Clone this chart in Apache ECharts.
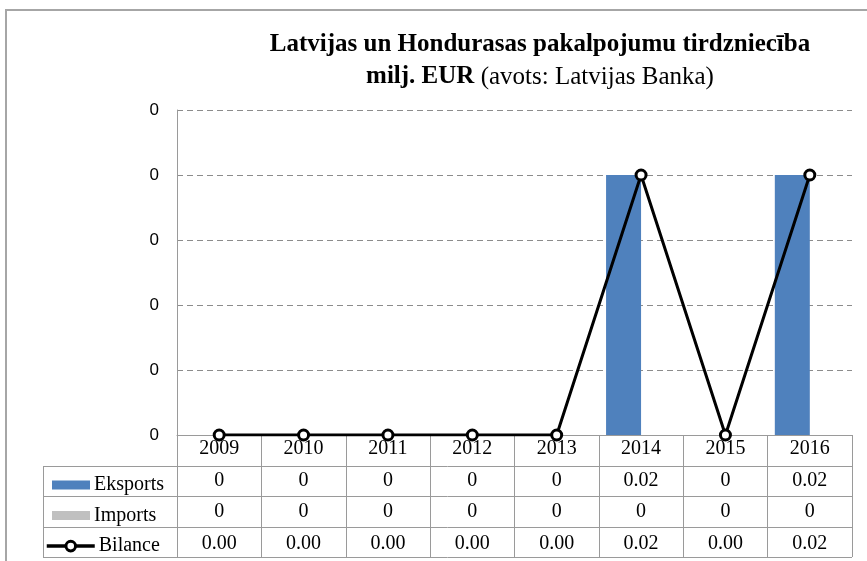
<!DOCTYPE html>
<html><head><meta charset="utf-8">
<script src="https://cdn.jsdelivr.net/npm/echarts@6/dist/echarts.min.js"></script>
<style>html,body{margin:0;padding:0;background:#fff}#c{width:867px;height:561px}</style>
</head><body><div id="c"></div>
<script>
const years = ['2009','2010','2011','2012','2013','2014','2015','2016'];
const eksports = [0,0,0,0,0,0.02,0,0.02];
const imports = [0,0,0,0,0,0,0,0];
const bilance = [0,0,0,0,0,0.02,0,0.02];
const yMin = 0, yMax = 0.025, yStep = 0.005;

const SERIF = '"Liberation Serif","Times New Roman",serif';
const G = {left:177, right:15, top:110, bottom:126};
const W = 867, H = 561;
const rowH = 30.6;
const tblTop = H - G.bottom;
const tblLeft = 43, tblRight = W - G.right;
const gray = '#9a9a9a';

function fmtGen(v){ return v === 0 ? '0' : String(+v.toFixed(2)); }
const chart = echarts.init(document.getElementById('c'), null, {renderer:'canvas'});

const lines = [];
for (let i = 1; i <= 4; i++) {
  const y = Math.round(tblTop + rowH * i) + 0.5;
  lines.push({type:'line', shape:{x1:tblLeft, y1:y, x2:tblRight, y2:y}, style:{stroke:gray, lineWidth:1}});
}
lines.push({type:'line', shape:{x1:tblLeft+0.5, y1:Math.round(tblTop+rowH), x2:tblLeft+0.5, y2:Math.round(tblTop+rowH*4)}, style:{stroke:gray, lineWidth:1}});
lines.push({type:'line', shape:{x1:G.left+0.5, y1:tblTop, x2:G.left+0.5, y2:Math.round(tblTop+rowH*4)}, style:{stroke:gray, lineWidth:1}});
lines.push({type:'rect', shape:{x:6, y:10, width:900, height:600}, style:{stroke:'#a6a6a6', fill:null, lineWidth:2}, z:-1});

function legendAt(name, row, extra){
  return Object.assign({
    data:[name], orient:'horizontal', left:47,
    top: tblTop + rowH*row + rowH/2 - 11,
    itemWidth:38, itemHeight:9, itemGap:0, icon:'rect',
    textStyle:{fontFamily:SERIF, fontSize:20, color:'#000', padding:[0,0,0,-1]},
    selectedMode:false
  }, extra || {});
}

chart.setOption({
  animation:false,
  title:{
    text:'{b|Latvijas un Hondurasas pakalpojumu tirdzniecība}\n{b|milj. EUR} {n|(avots: Latvijas Banka)}',
    left:535, top:24, textAlign:'center',
    textStyle:{fontFamily:SERIF, fontWeight:'normal', fontSize:25, rich:{
      b:{fontFamily:SERIF, fontWeight:'bold', fontSize:25, lineHeight:32, color:'#000'},
      n:{fontFamily:SERIF, fontWeight:'normal', fontSize:25, lineHeight:32, color:'#000'}
    }}
  },
  legend:[
    legendAt('Eksports',1),
    legendAt('Imports',2),
    legendAt('Bilance',3,{icon:null, itemWidth:48, itemHeight:12, left:40, lineStyle:{width:3.5, color:'#000'}, itemStyle:{color:'#fff', borderColor:'#000', borderWidth:3}})
  ],
  grid:{left:G.left, right:G.right, top:G.top, bottom:G.bottom, containLabel:false},
  xAxis:{
    type:'category', data:years, boundaryGap:true,
    axisLine:{lineStyle:{color:gray, width:1}},
    axisTick:{show:true, length:Math.round(rowH*4), lineStyle:{color:gray}},
    axisLabel:{
      margin:-2, interval:0,
      formatter:(v, i) => `{t|${v}}\n{t|${fmtGen(eksports[i])}}\n{t|${fmtGen(imports[i])}}\n{t|${bilance[i].toFixed(2)}}`,
      rich:{t:{fontFamily:SERIF, fontSize:20, lineHeight:31.5, color:'#000'}}
    }
  },
  yAxis:{
    type:'value', min:yMin, max:yMax, interval:yStep,
    axisLine:{show:true, lineStyle:{color:gray}},
    axisTick:{show:false},
    splitLine:{show:true, lineStyle:{color:'#8c8c8c', type:[6,4], width:1}},
    axisLabel:{margin:18, formatter:v => v.toFixed(0), fontFamily:'"Liberation Sans",Arial,sans-serif', fontSize:17, color:'#000'}
  },
  graphic:lines,
  series:[
    {name:'Eksports', type:'bar', data:eksports, barWidth:35, barGap:'0%', itemStyle:{color:'#4F81BD'}},
    {name:'Imports', type:'bar', data:imports, barWidth:35, barGap:'0%', itemStyle:{color:'#C0C0C0'}},
    {name:'Bilance', type:'line', data:bilance, symbol:'circle', symbolSize:10, z:5,
     lineStyle:{color:'#000', width:3}, itemStyle:{color:'#fff', borderColor:'#000', borderWidth:3}}
  ]
});
</script></body></html>
